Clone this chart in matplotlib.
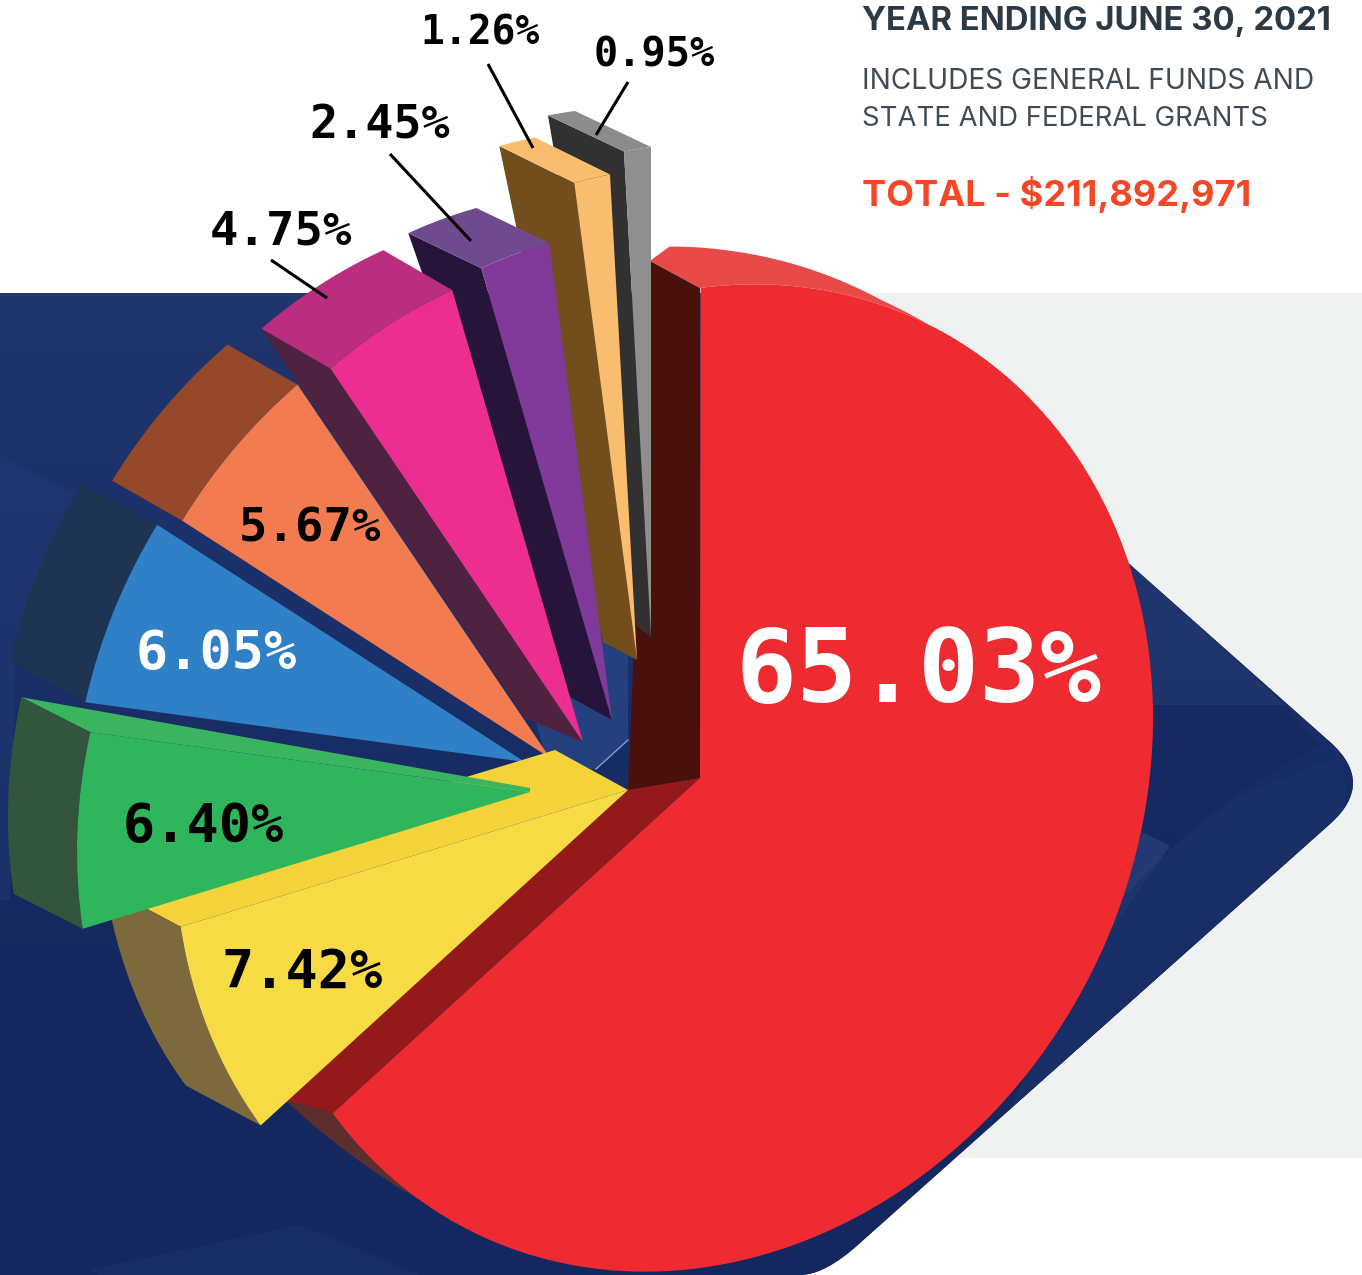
#!/usr/bin/env python3
"""Exploded 3D style pie, year ending June 30, 2021."""
import numpy as np
import matplotlib
matplotlib.use("Agg")
import matplotlib.pyplot as plt
from matplotlib.patches import Polygon, Rectangle, PathPatch, Wedge
from matplotlib.path import Path
from matplotlib.transforms import Affine2D
from matplotlib.colors import LinearSegmentedColormap

# shares, counter-clockwise from 12 o'clock
names = ["gray", "tan", "purple", "pink", "orange", "blue", "green", "yellow", "red"]
shares = [0.95, 1.26, 2.45, 4.75, 5.67, 6.05, 6.40, 7.42, 65.03]
labels = ["0.95%", "1.26%", "2.45%", "4.75%", "5.67%", "6.05%", "6.40%", "7.42%", "65.03%"]

face_col = ["#8f8f8f", "#f9bd6f", "#813a9a", "#ec2e91", "#f27b50", "#2f80c6", "#2fb65c", "#f7db44", "#ee2b30"]
rim_col = ["#8c8c8c", "#f9bd6f", "#6f4a8e", "#bb2d7e", "#95482a", "#1f3353", "#33553d", "#7d6a3c", "#e84a4a"]
wall_col = ["#313131", "#744d1c", "#27143a", "#4f2340", None, None, "#3ab45f", "#f3d23a", "#4a100c"]
wall_side = ["end", "end", "end", "end", None, None, "start", "start", "start"]

# where each slice sits on the page, in pixels
apex = [(651, 637), (637, 660), (612, 720), (583, 742), (550, 758), (525, 762), (530, 792), (628, 790), (700, 778)]
back_apex = [(635, 625), (603, 642), (570, 697), (525, 718), (550, 750), (525, 755), (530, 788), (555, 750), (628, 790)]
rim_off = [(-76, -36), (-75, -37), (-73, -35), (-69, -40), (-70, -40), (-75, -41), (-69, -35), (-75, -40), (-50, -27)]

# tilt of the pie: x = 453u, y = -60u - 490v
AX, BX, BY = 453, -60, -490


def pt(center, deg):
    t = np.radians(deg)
    u, v = np.cos(t), np.sin(t)
    return np.column_stack([center[0] + AX * u, center[1] + BX * u + BY * v])


def tilt(center):
    return Affine2D.from_values(AX, BX, 0, BY, center[0], center[1])


fig = plt.figure(figsize=(13.62, 12.75), dpi=100)
ax = fig.add_axes([0, 0, 1, 1])
ax.set_xlim(0, 1362)
ax.set_ylim(1275, 0)
ax.axis("off")

# backdrop
ax.add_patch(Rectangle((600, 293), 762, 865, fc="#f0f2f1", ec="none", zorder=1))
verts = [(0, 293), (824, 293), (1330, 742), (1376, 783), (1330, 824), (860, 1243), (825, 1275), (800, 1275), (0, 1275), (0, 293)]
codes = [Path.MOVETO, Path.LINETO, Path.LINETO, Path.CURVE3, Path.CURVE3, Path.LINETO, Path.CURVE3, Path.CURVE3, Path.LINETO, Path.CLOSEPOLY]
navy = PathPatch(Path(verts, codes), fc="#16295f", ec="none", zorder=2)
ax.add_patch(navy)
cm = LinearSegmentedColormap.from_list("navy", ["#21366f", "#1b2f69", "#15295f", "#142860"])
grad = np.linspace(0, 1, 256).reshape(-1, 1)
im = ax.imshow(grad, extent=(0, 1362, 1275, 293), cmap=cm, aspect="auto", zorder=2.1)
im.set_clip_path(navy)
ax.set_xlim(0, 1362)
ax.set_ylim(1275, 0)

# faint facets in the backdrop
facets = [
    ([(0, 455), (85, 500), (15, 660), (10, 900), (0, 900)], "#2a3f7c", 0.35),
    ([(1133, 567), (1285, 705), (1150, 705)], "#2a4078", 0.4),
    ([(1150, 705), (1285, 705), (1320, 745), (1240, 790), (1170, 846), (1140, 830)], "#14265f", 0.5),
    ([(1143, 833), (1170, 846), (1113, 928), (1095, 915)], "#2a3f7c", 0.7),
    ([(1175, 845), (1240, 795), (1345, 755), (1345, 810), (1010, 1110), (1080, 940)], "#1c3069", 0.7),
    ([(90, 1270), (300, 1225), (420, 1275), (100, 1275)], "#1f3470", 0.4),
]
for pts, col, a in facets:
    f = Polygon(pts, closed=True, fc=col, ec="none", alpha=a, zorder=2.2)
    ax.add_patch(f)
    f.set_clip_path(navy)

# the pale blue gap behind the slice tips
ax.add_patch(Polygon([(560, 600), (628, 600), (628, 740), (596, 770), (545, 755), (530, 700)],
                     closed=True, fc="#24407f", ec="none", zorder=2.5))
ax.plot([628, 596], [740, 769], color="#8a9cc4", lw=1, zorder=2.6)

# angles from the shares: 90 deg is 12 o'clock
edges = 90 + np.cumsum([0] + shares) * 3.6
order = [8, 0, 1, 2, 3, 4, 5, 7, 6]  # red goes first, green last
for z, i in enumerate(order):
    z0 = 10 + z
    t1, t2 = edges[i], edges[i + 1]
    c = apex[i]
    if names[i] == "red":
        # top rim, fading out on the right
        th = np.linspace(43, 90, 80)
        off_x = np.interp(th, [43, 50, 60, 80, 87, 90], [0, -30, -46, -54, -54, -50])
        off_y = np.interp(th, [43, 50, 60, 80, 87, 90], [0, -19, -24, -35, -39, -27])
        front = pt(c, th)
        back = front + np.column_stack([off_x, off_y])
        ax.add_patch(Polygon(np.vstack([front, back[::-1]]), closed=True, fc=rim_col[i], ec="none", zorder=z0))
        # bottom rim
        th = np.linspace(t1, t1 + 16, 30)
        front = pt(c, th)
        back = front + np.column_stack([np.linspace(-48, 0, 30), np.linspace(-14, 0, 30)])
        ax.add_patch(Polygon(np.vstack([front, back[::-1]]), closed=True, fc="#5c2f2e", ec="none", zorder=z0))
        # the two cut walls
        top = pt(c, [90])[0]
        ax.add_patch(Polygon([top, top + rim_off[i], back_apex[i], c], closed=True, fc=wall_col[i], ec="none", zorder=z0))
        low = pt(c, [t1])[0]
        ax.add_patch(Polygon([low, low + (-48, -14), back_apex[i], c], closed=True, fc="#94191b", ec="none", zorder=z0))
    else:
        th = np.linspace(t1, t2, 30)
        front = pt(c, th)
        back = front + rim_off[i]
        if wall_side[i]:
            edge = pt(c, [t2 if wall_side[i] == "end" else t1])[0]
            ax.add_patch(Polygon([edge, edge + rim_off[i], back_apex[i], c], closed=True,
                                 fc=wall_col[i], ec="none", zorder=z0))
        ax.add_patch(Polygon(np.vstack([front, back[::-1]]), closed=True, fc=rim_col[i], ec="none", zorder=z0))
    w = Wedge((0, 0), 1, t1, t2, fc=face_col[i], ec="none", transform=tilt(c) + ax.transData, zorder=z0 + 0.5)
    ax.add_patch(w)

# percentage labels
label_pos = [(654, 55), (480, 33), (380, 126), (281, 232), (310, 529), (216, 654), (203, 827), (302, 973), (919, 674)]
label_size = [29, 28.5, 33.7, 34, 34, 38.5, 38.5, 38.5, 73]
label_col = ["k", "k", "k", "k", "k", "w", "k", "k", "w"]
for s, p, fs, col in zip(labels, label_pos, label_size, label_col):
    ax.text(p[0], p[1], s, family="DejaVu Sans Mono", weight="bold", fontsize=fs, color=col,
            ha="center", va="center", zorder=40)

# leader lines
leaders = [((628, 82), (596, 135)), ((488, 64), (533, 148)), ((390, 154), (471, 241)), ((271, 260), (327, 298))]
for a, b in leaders:
    ax.plot([a[0], b[0]], [a[1], b[1]], color="k", lw=2.2, solid_capstyle="butt", zorder=41)

# header block
ax.text(862, 30, "YEAR ENDING JUNE 30, 2021", family="Inter", weight="bold", fontsize=23.7, color="#2c3a45", va="baseline", zorder=40)
ax.text(862, 89, "INCLUDES GENERAL FUNDS AND", family="Inter", weight="normal", fontsize=20.2, color="#3f4b55", va="baseline", zorder=40)
ax.text(862, 126, "STATE AND FEDERAL GRANTS", family="Inter", weight="normal", fontsize=19.8, color="#3f4b55", va="baseline", zorder=40)
ax.text(862, 206, "TOTAL - $211,892,971", family="Inter", weight="bold", fontsize=26, color="#f44725", va="baseline", zorder=40)

fig.savefig("out.png", dpi=100)
